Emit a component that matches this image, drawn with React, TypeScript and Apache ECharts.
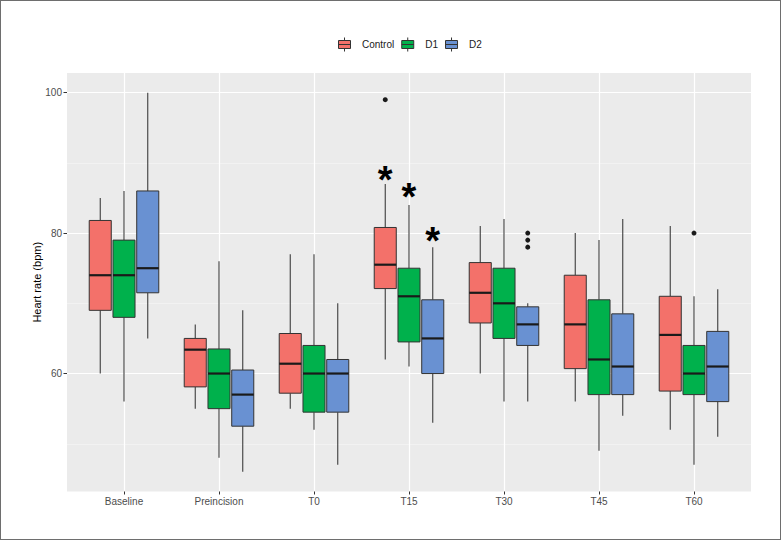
import React, { useEffect, useRef } from 'react';
import * as echarts from 'echarts';

// Categories (x axis)
const categories = ['Baseline', 'Preincision', 'T0', 'T15', 'T30', 'T45', 'T60'];

// Y axis tick labels
const yTickValues = [60, 80, 100];

// Box statistics per category: [lower whisker, Q1, median, Q3, upper whisker]
const controlStats = [
  [60, 69, 74, 81.8, 85],
  [55, 58.1, 63.4, 65, 67],
  [55, 57.2, 61.4, 65.7, 77],
  [62, 72.1, 75.5, 80.8, 87],
  [60, 67.2, 71.5, 75.8, 81],
  [56, 60.7, 67, 74, 80],
  [52, 57.5, 65.5, 71, 81],
];
const d1Stats = [
  [56, 68, 74, 79, 86],
  [48, 55, 60, 63.5, 76],
  [52, 54.5, 60, 64, 77],
  [61, 64.5, 71, 75, 84],
  [56, 65, 70, 75, 82],
  [49, 57, 62, 70.5, 79],
  [47, 57, 60, 64, 71],
];
const d2Stats = [
  [65, 71.5, 75, 86, 100],
  [46, 52.5, 57, 60.5, 69],
  [47, 54.5, 60, 62, 70],
  [53, 60, 65, 70.5, 78],
  [56, 64, 67, 69.5, 70],
  [54, 57, 61, 68.5, 82],
  [51, 56, 61, 66, 72],
];

// Outliers: [category index, value]
const controlOutliers = [[3, 99]];
const d1Outliers = [[6, 80]];
const d2Outliers = [[4, 80], [4, 79], [4, 78]];

// Significance markers (*): [category index, value]
const controlMarks = [[3, 88.1]];
const d1Marks = [[3, 85.7]];
const d2Marks = [[3, 79.4]];

const seriesNames = ['Control', 'D1', 'D2'];
const seriesColors = ['#F3716A', '#00B14C', '#6991D2'];

const FONT = "'Liberation Sans', Arial, sans-serif";
const DODGE = 0.25; // fraction of band between dodged boxes
const BOX_HALF = 0.116; // half box width as fraction of band

export default function App() {
  const ref = useRef<HTMLDivElement>(null);

  useEffect(() => {
    if (!ref.current) return;
    const chart = echarts.init(ref.current, null, { renderer: 'svg' });

    const statsList = [controlStats, d1Stats, d2Stats];
    const outlierList = [controlOutliers, d1Outliers, d2Outliers];
    const markList = [controlMarks, d1Marks, d2Marks];
    const catIndices = categories.map((_, i) => i);

    const boxRender = (slot: number) => (params: any, api: any) => {
      const i = api.value(0);
      const band = api.size([1, 0])[0];
      const cx = api.coord([i, 60])[0] + slot * band * DODGE;
      const half = band * BOX_HALF;
      const y = (k: number) => api.coord([i, api.value(k)])[1];
      const yLow = y(1), yQ1 = y(2), yMed = y(3), yQ3 = y(4), yHigh = y(5);
      const color = api.visual('color');
      return {
        type: 'group',
        children: [
          { type: 'line', shape: { x1: cx, y1: yHigh, x2: cx, y2: yQ3 }, style: { stroke: '#3d3d3d', lineWidth: 1.1 } },
          { type: 'line', shape: { x1: cx, y1: yQ1, x2: cx, y2: yLow }, style: { stroke: '#3d3d3d', lineWidth: 1.1 } },
          { type: 'rect', shape: { x: cx - half, y: yQ3, width: half * 2, height: yQ1 - yQ3 }, style: { fill: color, stroke: '#333333', lineWidth: 1 } },
          { type: 'line', shape: { x1: cx - half, y1: yMed, x2: cx + half, y2: yMed }, style: { stroke: '#1a1a1a', lineWidth: 2.2 } },
        ],
      };
    };

    const pointRender = (slot: number) => (params: any, api: any) => {
      const i = api.value(0);
      const band = api.size([1, 0])[0];
      const p = api.coord([i, api.value(1)]);
      return {
        type: 'circle',
        shape: { cx: p[0] + slot * band * DODGE, cy: p[1], r: 2.5 },
        style: { fill: '#1a1a1a' },
      };
    };

    const markRender = (slot: number) => (params: any, api: any) => {
      const i = api.value(0);
      const band = api.size([1, 0])[0];
      const p = api.coord([i, api.value(1)]);
      const fs = 38;
      return {
        type: 'text',
        x: p[0] + slot * band * DODGE,
        y: p[1] + fs * 0.1,
        style: {
          text: '*',
          fontSize: fs,
          fontWeight: 'bold',
          fontFamily: FONT,
          fill: '#000000',
          align: 'center',
          verticalAlign: 'middle',
        },
      };
    };

    const series: any[] = [];
    seriesNames.forEach((name, s) => {
      const slot = s - 1;
      series.push({
        name,
        type: 'custom',
        itemStyle: { color: seriesColors[s] },
        renderItem: boxRender(slot),
        encode: { x: 0, y: [1, 2, 3, 4, 5] },
        data: statsList[s].map((st, i) => [i, ...st]),
        z: 3,
      });
      series.push({
        name: name + ' outliers',
        type: 'custom',
        renderItem: pointRender(slot),
        encode: { x: 0, y: 1 },
        data: outlierList[s],
        z: 4,
      });
      series.push({
        name: name + ' significance',
        type: 'custom',
        renderItem: markRender(slot),
        encode: { x: 0, y: 1 },
        data: markList[s],
        z: 5,
      });
    });

    const legendIcon = 'path://M6,0 L6,3 M0,3 L12,3 L12,11 L0,11 Z M0,7 L12,7 M6,11 L6,14';

    const option: any = {
      animation: false,
      backgroundColor: '#ffffff',
      textStyle: { fontFamily: FONT },
      legend: {
        data: seriesNames,
        left: 333,
        top: 32,
        icon: legendIcon,
        itemWidth: 13,
        itemHeight: 14,
        itemGap: 7,
        itemStyle: { borderColor: '#333333', borderWidth: 1 },
        textStyle: { fontSize: 10, color: '#1a1a1a', fontFamily: FONT, padding: [0, 0, 0, 6] },
        selectedMode: false,
      },
      grid: {
        left: 67,
        right: 30,
        top: 73,
        bottom: 48.5,
        show: true,
        backgroundColor: '#EBEBEB',
        borderWidth: 0,
      },
      xAxis: {
        type: 'value',
        min: -0.6,
        max: 6.6,
        minInterval: 1,
        maxInterval: 1,
        axisLine: { show: false, onZero: false },
        axisTick: { show: true, length: 3, customValues: catIndices, lineStyle: { color: '#333333', width: 1 } },
        axisLabel: {
          fontSize: 10,
          color: '#4D4D4D',
          margin: 5,
          fontFamily: FONT,
          customValues: catIndices,
          formatter: (v: number) => categories[Math.round(v)] ?? '',
        },
        splitLine: { show: true, lineStyle: { color: '#ffffff', width: 1.2 } },
      },
      yAxis: {
        type: 'value',
        min: 43.2,
        max: 102.8,
        minInterval: 20,
        maxInterval: 20,
        name: 'Heart rate (bpm)',
        nameLocation: 'middle',
        nameGap: 25,
        nameMoveOverlap: false,
        nameTextStyle: { fontSize: 11, color: '#000000', fontFamily: FONT },
        axisLine: { show: false, onZero: false },
        axisTick: { show: true, length: 3.5, customValues: yTickValues, lineStyle: { color: '#333333', width: 1 } },
        axisLabel: {
          fontSize: 10,
          color: '#4D4D4D',
          margin: 5,
          fontFamily: FONT,
          customValues: yTickValues,
        },
        splitLine: { show: true, lineStyle: { color: '#ffffff', width: 1.2 } },
        minorTick: { show: false, splitNumber: 2 },
        minorSplitLine: { show: true, lineStyle: { color: '#F7F7F7', width: 0.6 } },
      },
      series,
    };

    chart.setOption(option);
    return () => chart.dispose();
  }, []);

  return (
    <div style={{ position: 'fixed', left: 0, top: 0, width: 781, height: 540, background: '#ffffff' }}>
      <div ref={ref} style={{ width: 781, height: 540 }} />
      <div
        style={{
          position: 'absolute',
          left: 0,
          top: 0,
          width: 781,
          height: 540,
          boxSizing: 'border-box',
          border: '1px solid #6e6e6e',
          pointerEvents: 'none',
        }}
      />
    </div>
  );
}
